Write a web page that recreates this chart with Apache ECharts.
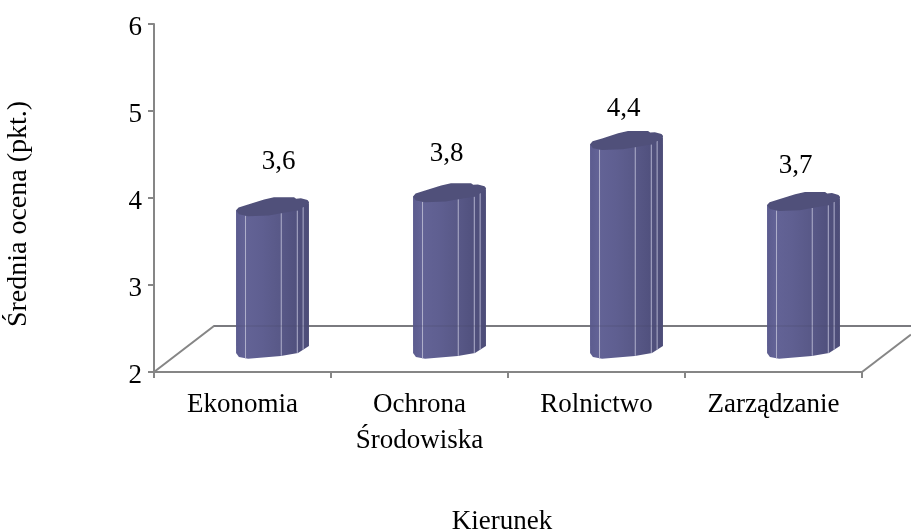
<!DOCTYPE html>
<html><head><meta charset="utf-8">
<style>html,body{margin:0;padding:0;background:#fff}#c{width:911px;height:530px}</style>
<script src="https://cdn.jsdelivr.net/npm/echarts@6/dist/echarts.min.js"></script>
</head><body><div id="c"></div>
<script>
const categories = ['Ekonomia', 'Ochrona\nŚrodowiska', 'Rolnictwo', 'Zarządzanie'];
const scores = [3.64, 3.8, 4.4, 3.7];
const yTicks = {min: 2, max: 6, interval: 1};
const xTitle = 'Kierunek';
const yTitle = 'Średnia ocena (pkt.)';

// layout constants (not data)
const FONT = '"Liberation Serif","Times New Roman",serif';
const AXIS = '#868686';
const floorDepth = {x: 60, y: 46};
const labelGap = [44, 38, 31, 35];
const labelDx = [6, -3, -3, -8];
const topOutline = [[-1,.11],[-.93,.03],[-.67,-.05],[-.23,-.19],[.04,-.25],[.59,-.25],[.65,-.21],[.78,-.22],[.96,-.17],[1,-.12],[1,-.08],[.7,.11],[.23,.19],[-.1,.25],[-.67,.27],[-.92,.22]];
const frontEdge = [[-1,.11],[-.92,.22],[-.67,.27],[.23,.19],[.7,.11],[1,-.08]];
const streaks = [-.74, .24, .68, .84];

function frontY(u){
  for(let i=0;i<frontEdge.length-1;i++){
    const a=frontEdge[i],b=frontEdge[i+1];
    if(u>=a[0]&&u<=b[0]) return a[1]+(b[1]-a[1])*(u-a[0])/(b[0]-a[0]);
  }
  return 0;
}

function renderBar(params, api){
  const i = api.value(0), v = api.value(1);
  const band = api.size([1,0])[0];
  const hw = band*0.206;
  const top = api.coord([i, v]), base = api.coord([i, yTicks.min]);
  const cx = top[0]+floorDepth.x/2, ty = top[1]-floorDepth.y/2, by = base[1]-floorDepth.y/2;
  const pt = (p,cy)=>[cx+p[0]*hw, cy+p[1]*hw];
  const body = [[cx-hw,ty+.11*hw],[cx+hw,ty-.08*hw]].concat(frontEdge.slice().reverse().map(p=>pt(p,by)));
  const children = [{
    type:'polygon', shape:{points:body},
    style:{fill:new echarts.graphic.LinearGradient(0,0,1,0,[
      {offset:0,color:'#5c5c8f'},{offset:.12,color:'#636396'},{offset:.35,color:'#5f5f91'},
      {offset:.62,color:'#585887'},{offset:.85,color:'#50507d'},{offset:1,color:'#4d4d78'}]),stroke:null}
  }];
  streaks.forEach(u=>{
    const x=cx+u*hw;
    children.push({type:'line',shape:{x1:x,y1:ty+frontY(u)*hw,x2:x,y2:by+frontY(u)*hw},style:{stroke:'#b0b0cc',lineWidth:1}});
  });
  children.push({type:'polygon',shape:{points:topOutline.map(p=>pt(p,ty))},style:{fill:'#50507a',stroke:null}});
  children.push({type:'text',style:{text:String(v.toFixed(1)).replace('.',','),x:cx+labelDx[i],y:ty-labelGap[i],align:'center',verticalAlign:'middle',font:'27px '+FONT,fill:'#000'}});
  return {type:'group',children};
}

function floorLines(api, over){
  const a = api.coord([0,yTicks.min]);
  const band = api.size([1,0])[0];
  const left = a[0]-band/2, right = left+band*categories.length, y=a[1];
  const bx = left+floorDepth.x, by=y-floorDepth.y;
  const edge = 911;
  const st = over?{stroke:'rgba(70,70,100,.35)',lineWidth:1}:{stroke:AXIS,lineWidth:2};
  if(over) return {type:'line',shape:{x1:bx,y1:by,x2:edge,y2:by},style:st};
  return {type:'group',children:[
    {type:'polyline',shape:{points:[[left,y],[bx,by],[edge,by]]},style:{stroke:AXIS,lineWidth:2,fill:null}},
    {type:'line',shape:{x1:right,y1:y,x2:edge,y2:y-(edge-right)*floorDepth.y/floorDepth.x},style:{stroke:AXIS,lineWidth:2}}
  ]};
}

const chart = echarts.init(document.getElementById('c'),null,{renderer:'canvas'});
chart.setOption({
  animation:false,
  backgroundColor:'#fff',
  grid:{left:154,right:49,top:24,bottom:158,outerBoundsMode:'none'},
  xAxis:{type:'category',data:categories,boundaryGap:true,
    name:xTitle,nameLocation:'middle',nameGap:136,
    nameTextStyle:{fontFamily:FONT,fontSize:27,color:'#000',padding:[0,12,0,0]},
    axisLine:{lineStyle:{color:AXIS,width:2}},
    axisTick:{show:true,alignWithLabel:false,length:6,lineStyle:{color:AXIS,width:2}},
    axisLabel:{fontFamily:FONT,fontSize:27,color:'#000',margin:15,lineHeight:36,interval:0},
    splitLine:{show:false}},
  yAxis:{type:'value',min:yTicks.min,max:yTicks.max,interval:yTicks.interval,
    name:yTitle,nameLocation:'middle',nameGap:121,nameRotate:90,
    nameTextStyle:{fontFamily:FONT,fontSize:28,color:'#000',padding:[0,32,0,0]},
    axisLine:{show:true,lineStyle:{color:AXIS,width:2}},
    axisTick:{show:true,length:6,lineStyle:{color:AXIS,width:2}},
    axisLabel:{formatter:'{n|{value}}',rich:{n:{fontFamily:FONT,fontSize:27,color:'#000',padding:[7,0,0,0]}},margin:12},
    splitLine:{show:false}},
  series:[
    {type:'custom',silent:true,z:1,clip:false,data:[[0]],encode:{x:0},renderItem:(p,api)=>floorLines(api,false)},
    {type:'custom',name:'Średnia ocena',z:2,clip:false,data:scores.map((v,i)=>[i,v]),encode:{x:0,y:1},renderItem:renderBar},
    {type:'custom',silent:true,z:3,clip:false,data:[[0]],encode:{x:0},renderItem:(p,api)=>floorLines(api,true)}
  ]
});
</script></body></html>
